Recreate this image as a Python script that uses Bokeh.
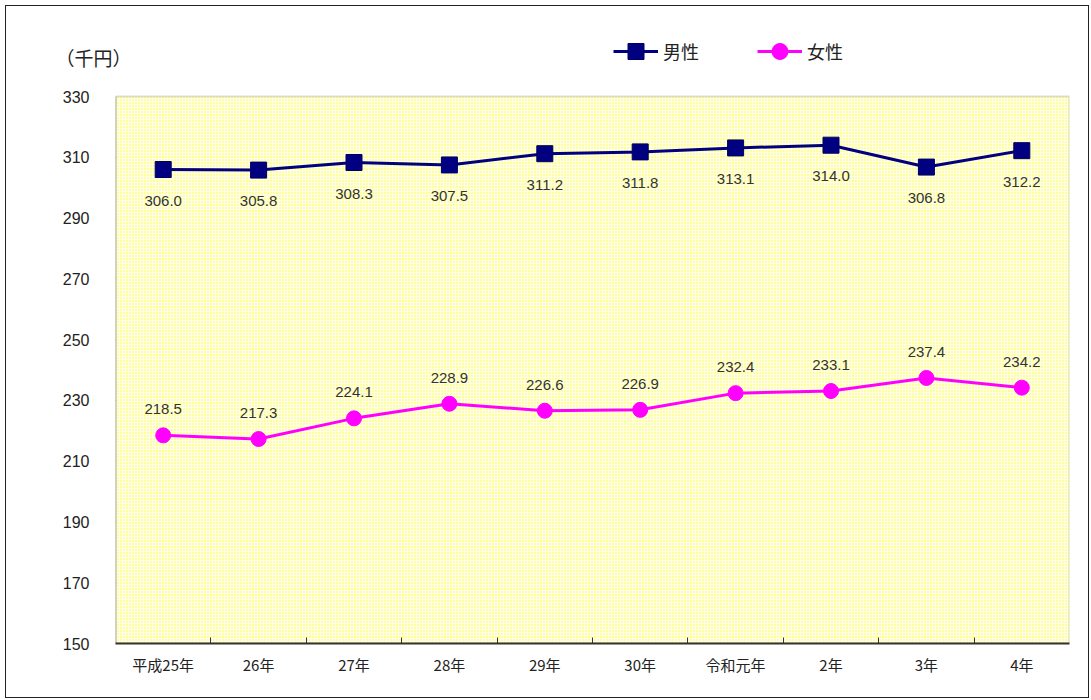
from bokeh.plotting import figure
from bokeh.models import (FixedTicker, Legend, LegendItem, BoxAnnotation, LinearAxis,
                          ColumnDataSource, LabelSet, Range1d)
from bokeh.core.properties import value
from bokeh.embed import file_html
from bokeh.resources import INLINE

categories = ["平成25年", "26年", "27年", "28年", "29年", "30年", "令和元年", "2年", "3年", "4年"]
male = [306.0, 305.8, 308.3, 307.5, 311.2, 311.8, 313.1, 314.0, 306.8, 312.2]
female = [218.5, 217.3, 224.1, 228.9, 226.6, 226.9, 232.4, 233.1, 237.4, 234.2]
y_ticks = [150, 170, 190, 210, 230, 250, 270, 290, 310, 330]
unit_text = "（千円）"
Y_MIN, Y_MAX = 150, 330

xs = [i + 0.5 for i in range(len(categories))]
JP = "Noto Sans CJK JP"
NUM = "Liberation Sans"

# frame extends to the top of the figure so the legend is not clipped
p = figure(width=1084, height=693, output_backend="svg", toolbar_location=None,
           x_range=Range1d(0, len(categories)), y_range=Range1d(Y_MIN, 358.0),
           min_border_left=109, min_border_right=21, min_border_top=5, min_border_bottom=56)
p.styles = {"border": "1px solid #222", "margin-left": "5px", "margin-top": "5px"}
p.background_fill_color = "white"
p.border_fill_color = "white"
p.outline_line_color = None

# plot area: yellow patterned fill, gray border on top/right
bg = BoxAnnotation(left=0, right=len(categories), bottom=Y_MIN, top=Y_MAX,
                   fill_color="#FFFF99", fill_alpha=1.0, hatch_pattern="+",
                   hatch_color="white", hatch_scale=3, hatch_weight=1, hatch_alpha=0.8,
                   line_color="#8a8a8a", line_width=2, level="underlay")
p.add_layout(bg)
# dark left edge of the plot area
p.add_layout(BoxAnnotation(left=0, right=0, bottom=Y_MIN, top=Y_MAX, fill_alpha=0,
                           line_color="#333333", line_width=2, level="underlay"))

# x axis
p.xaxis.ticker = FixedTicker(ticks=xs, minor_ticks=[float(i) for i in range(1, len(categories))])
p.xaxis.major_label_overrides = {x: c for x, c in zip(xs, categories)}
p.xaxis.major_tick_in = 0
p.xaxis.major_tick_out = 0
p.xaxis.minor_tick_in = 6
p.xaxis.minor_tick_out = 0
p.xaxis.minor_tick_line_color = "#333333"
p.xaxis.axis_line_color = "#333333"
p.xaxis.axis_line_width = 2
p.xaxis.major_label_text_font = JP
p.xaxis.major_label_text_font_size = "15px"
p.xaxis.major_label_text_color = "#222222"
p.xaxis.major_label_standoff = 10

# y axis
p.yaxis.ticker = FixedTicker(ticks=y_ticks)
p.yaxis.major_tick_in = 0
p.yaxis.major_tick_out = 0
p.yaxis.minor_tick_line_color = None
p.yaxis.axis_line_color = None
p.yaxis.major_label_text_font = NUM
p.yaxis.major_label_text_font_size = "16px"
p.yaxis.major_label_text_color = "#222222"
p.yaxis.major_label_standoff = 26

# unit label as an outer left axis with a single tick
unit_y = 342.8
unit_axis = LinearAxis(ticker=FixedTicker(ticks=[unit_y]),
                       major_label_overrides={unit_y: unit_text},
                       major_tick_in=0, major_tick_out=0, minor_tick_line_color=None,
                       axis_line_color=None, major_label_standoff=-72,
                       major_label_text_font=JP, major_label_text_font_size="19px",
                       major_label_text_color="#222222")
p.add_layout(unit_axis, "left")

p.xgrid.grid_line_color = None
p.ygrid.ticker = FixedTicker(ticks=y_ticks[1:-1])
p.ygrid.grid_line_color = "#777777"
p.ygrid.grid_line_dash = "2 3"
p.ygrid.grid_line_width = 1

src = ColumnDataSource(dict(x=xs, m=male, f=female,
                            ml=[f"{v:.1f}" for v in male], fl=[f"{v:.1f}" for v in female]))

lm = p.line("x", "m", source=src, line_color="#000080", line_width=3)
sm = p.scatter("x", "m", source=src, marker="square", size=16, fill_color="#000080",
               line_color="#000060")
lf = p.line("x", "f", source=src, line_color="#FF00FF", line_width=3)
sf = p.scatter("x", "f", source=src, marker="circle", size=15, fill_color="#FF00FF",
               line_color="#FF00FF")

p.add_layout(LabelSet(x="x", y="m", text="ml", source=src, text_align="center",
                      text_baseline="middle", y_offset=-31, text_font=value(NUM),
                      text_font_size=value("15px"), text_color="#333333"))
p.add_layout(LabelSet(x="x", y="f", text="fl", source=src, text_align="center",
                      text_baseline="middle", y_offset=26, text_font=value(NUM),
                      text_font_size=value("15px"), text_color="#333333"))

legend = Legend(items=[LegendItem(label="男性", renderers=[lm, sm]),
                       LegendItem(label="女性", renderers=[lf, sf])],
                orientation="horizontal", location=(498, 572),
                label_text_font=JP, label_text_font_size="18px", label_text_color="#222222",
                glyph_width=45, glyph_height=40, spacing=58, label_standoff=5,
                border_line_color=None, background_fill_alpha=0)
p.add_layout(legend)

open("out.html", "w").write(file_html(p, INLINE))
